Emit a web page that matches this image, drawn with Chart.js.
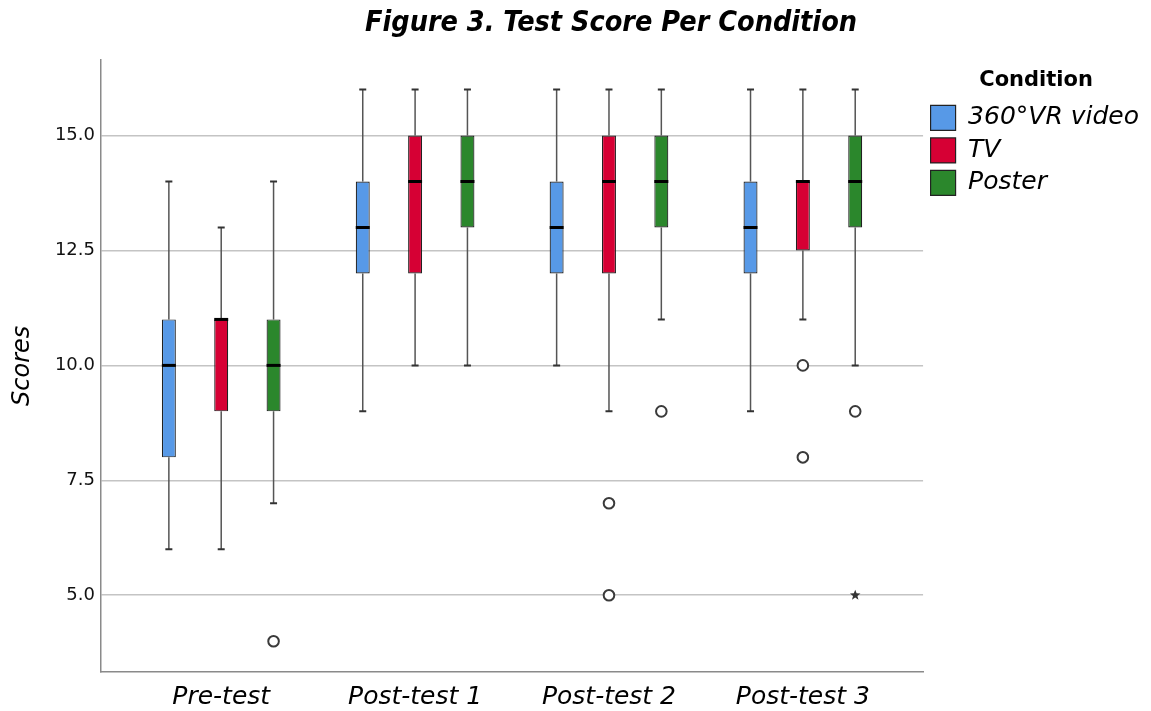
<!DOCTYPE html>
<html>
<head>
<meta charset="utf-8">
<script src="https://cdn.jsdelivr.net/npm/chart.js@4.4.1/dist/chart.umd.min.js"></script>
<style>
html,body{margin:0;padding:0;background:#ffffff;}
#wrap{width:1151px;height:711px;}
</style>
</head>
<body>
<div id="wrap"><canvas id="c" width="1151" height="711"></canvas></div>
<script>
// ---- data ----
const categories = ['Pre-test', 'Post-test 1', 'Post-test 2', 'Post-test 3'];
const conditions = ['360°VR video', 'TV', 'Poster'];

const vrMin = [6, 9, 10, 9];
const vrQ1  = [8, 12, 12, 12];
const vrMed = [10, 13, 13, 13];
const vrQ3  = [11, 14, 14, 14];
const vrMax = [14, 16, 16, 16];
const vrOutliers = [[], [], [], []];
const vrExtremes = [[], [], [], []];

const tvMin = [6, 10, 9, 11];
const tvQ1  = [9, 12, 12, 12.5];
const tvMed = [11, 14, 14, 14];
const tvQ3  = [11, 15, 15, 14];
const tvMax = [13, 16, 16, 16];
const tvOutliers = [[], [], [7, 5], [10, 8]];
const tvExtremes = [[], [], [], []];

const posterMin = [7, 10, 11, 10];
const posterQ1  = [9, 13, 13, 13];
const posterMed = [10, 14, 14, 14];
const posterQ3  = [11, 15, 15, 15];
const posterMax = [14, 16, 16, 16];
const posterOutliers = [[4], [], [9], [9]];
const posterExtremes = [[], [], [], [5]];

const colors = ['rgb(87,153,231)', 'rgb(214,0,52)', 'rgb(43,135,44)'];

// ---- build ----
const stats = [
  {min: vrMin, q1: vrQ1, med: vrMed, q3: vrQ3, max: vrMax, out: vrOutliers, ext: vrExtremes},
  {min: tvMin, q1: tvQ1, med: tvMed, q3: tvQ3, max: tvMax, out: tvOutliers, ext: tvExtremes},
  {min: posterMin, q1: posterQ1, med: posterMed, q3: posterQ3, max: posterMax, out: posterOutliers, ext: posterExtremes}
];

const datasets = stats.map((s, d) => ({
  label: conditions[d],
  data: categories.map((c, i) => ({x: i, y: [s.q1[i], s.q3[i]]})),
  backgroundColor: colors[d],
  borderColor: '#222222',
  borderWidth: 1.2,
  borderSkipped: false,
  categoryPercentage: 0.81,
  barPercentage: 0.267
}));

const boxplotPlugin = {
  id: 'boxplot',
  beforeDatasetsDraw(chart) {
    const ctx = chart.ctx, y = chart.scales.y;
    ctx.save();
    stats.forEach((s, d) => {
      const meta = chart.getDatasetMeta(d);
      meta.data.forEach((el, i) => {
        const x = el.x;
        ctx.strokeStyle = '#555555';
        ctx.lineWidth = 1.5;
        ctx.beginPath();
        ctx.moveTo(x, y.getPixelForValue(s.q3[i]));
        ctx.lineTo(x, y.getPixelForValue(s.max[i]));
        ctx.moveTo(x, y.getPixelForValue(s.q1[i]));
        ctx.lineTo(x, y.getPixelForValue(s.min[i]));
        ctx.stroke();
        ctx.strokeStyle = '#333333';
        ctx.lineWidth = 2;
        ctx.beginPath();
        [s.max[i], s.min[i]].forEach(v => {
          const py = y.getPixelForValue(v);
          ctx.moveTo(x - 3.5, py);
          ctx.lineTo(x + 3.5, py);
        });
        ctx.stroke();
      });
    });
    ctx.restore();
  },
  afterDatasetsDraw(chart) {
    const ctx = chart.ctx, y = chart.scales.y;
    ctx.save();
    stats.forEach((s, d) => {
      const meta = chart.getDatasetMeta(d);
      meta.data.forEach((el, i) => {
        const x = el.x, w = el.width;
        // median
        ctx.strokeStyle = '#000000';
        ctx.lineWidth = 3;
        ctx.beginPath();
        const pm = y.getPixelForValue(s.med[i]);
        ctx.moveTo(x - w / 2, pm);
        ctx.lineTo(x + w / 2, pm);
        ctx.stroke();
        // outliers
        s.out[i].forEach(v => {
          ctx.beginPath();
          ctx.arc(x, y.getPixelForValue(v), 5.3, 0, Math.PI * 2);
          ctx.fillStyle = '#ffffff';
          ctx.fill();
          ctx.lineWidth = 2;
          ctx.strokeStyle = '#3a3a3a';
          ctx.stroke();
        });
        // extremes (star)
        s.ext[i].forEach(v => {
          const py = y.getPixelForValue(v);
          ctx.beginPath();
          for (let k = 0; k < 10; k++) {
            const r = k % 2 === 0 ? 5.5 : 2.3;
            const a = -Math.PI / 2 + k * Math.PI / 5;
            const px = x + r * Math.cos(a), pyy = py + r * Math.sin(a);
            if (k === 0) ctx.moveTo(px, pyy); else ctx.lineTo(px, pyy);
          }
          ctx.closePath();
          ctx.fillStyle = '#333333';
          ctx.fill();
        });
      });
    });
    ctx.restore();
  },
  afterLayout(chart) {
    if (chart.titleBlock) {
      chart.titleBlock.left = 71;
      chart.titleBlock.right = 1151;
    }
  }
};

const FONT = '"DejaVu Sans", Verdana, sans-serif';

new Chart(document.getElementById('c'), {
  type: 'bar',
  data: {datasets},
  plugins: [boxplotPlugin],
  options: {
    responsive: false,
    animation: false,
    events: [],
    layout: {padding: {left: 0, right: 2, top: 0, bottom: 0}},
    plugins: {
      tooltip: {enabled: false},
      title: {
        display: true,
        text: 'Figure 3. Test Score Per Condition',
        color: '#000000',
        font: {family: '"DejaVu Sans Condensed", "DejaVu Sans", sans-serif', size: 28.5, weight: 'bold', style: 'italic', lineHeight: 1.2},
        padding: {top: 6.5, bottom: 19}
      },
      legend: {
        display: true,
        position: 'right',
        align: 'start',
        fullSize: false,
        title: {
          display: true,
          text: 'Condition',
          color: '#000000',
          font: {family: FONT, size: 21, weight: 'bold', lineHeight: 1.2},
          padding: {top: 10.5, bottom: 2.5}
        },
        labels: {
          boxWidth: 25,
          boxHeight: 25,
          padding: 7.5,
          color: '#000000',
          font: {family: FONT, size: 25, style: 'italic'}
        }
      }
    },
    scales: {
      x: {
        type: 'linear',
        offset: false,
        min: -0.62,
        max: 3.62,
        afterFit(scale) { scale.height = 39; },
        grid: {display: false, drawTicks: false},
        border: {display: true, color: '#8a8a8a', width: 1.5},
        ticks: {
          stepSize: 1,
          includeBounds: false,
          autoSkip: false,
          maxRotation: 0,
          padding: 10,
          color: '#000000',
          font: {family: FONT, size: 25, style: 'italic'},
          callback: (v) => (categories[v] !== undefined ? categories[v] : '')
        }
      },
      y: {
        type: 'linear',
        min: 3.33,
        max: 16.65,
        afterFit(scale) { scale.width = 101; },
        grid: {display: true, drawTicks: false, color: '#c4c4c4', lineWidth: 1.5},
        border: {display: true, color: '#8a8a8a', width: 1.5},
        ticks: {
          stepSize: 2.5,
          includeBounds: false,
          padding: 6,
          color: '#111111',
          font: {family: FONT, size: 18},
          callback: (v) => Number(v).toFixed(1)
        },
        title: {
          display: true,
          text: 'Scores',
          color: '#000000',
          font: {family: FONT, size: 24, style: 'italic', lineHeight: 1.2},
          padding: {top: 8, bottom: 0}
        }
      }
    }
  }
});
</script>
</body>
</html>
